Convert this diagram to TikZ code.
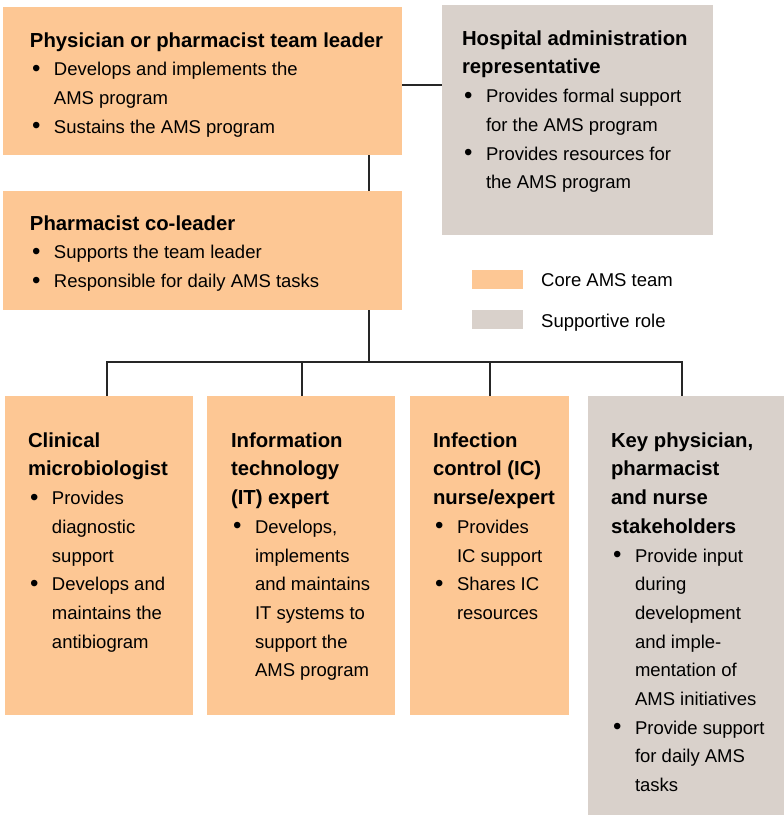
\documentclass[tikz,border=0pt]{standalone}
\usepackage{fontspec}
\setmainfont{Liberation Sans}
\definecolor{core}{HTML}{FDC794}
\definecolor{supp}{HTML}{D9D1CB}
\definecolor{lin}{HTML}{262626}
\newcommand{\ttl}[1]{{\fontsize{20.3}{28.7}\selectfont\bfseries #1}}
\newcommand{\bl}[1]{\makebox[24pt][l]{\hspace*{2pt}\raisebox{-0.5pt}{\fontsize{24}{28.7}\selectfont\textbullet}}#1}
\newcommand{\cn}[1]{\hspace*{24pt}#1}
\tikzset{
  box/.style={draw=none, anchor=north west, inner sep=0pt, outer sep=0pt},
  corebox/.style={box, fill=core},
  suppbox/.style={box, fill=supp},
  txt/.style={anchor=north west, inner sep=0pt, outer sep=0pt, align=left,
    font=\fontsize{18.5}{28.7}\selectfont},
  conn/.style={draw=lin, line width=1.2pt},
}
\begin{document}
\begin{tikzpicture}[x=1pt,y=-1pt]
\useasboundingbox (0,0) rectangle (784,815);
% boxes
\node[corebox, minimum width=399pt, minimum height=148pt] (b1) at (3,7) {};
\node[suppbox, minimum width=271pt, minimum height=230pt] (hosp) at (442,5) {};
\node[corebox, minimum width=399pt, minimum height=119pt] (co) at (3,191) {};
\node[corebox, minimum width=188pt, minimum height=319pt] (c1) at (5,396) {};
\node[corebox, minimum width=188pt, minimum height=319pt] (c2) at (207,396) {};
\node[corebox, minimum width=159pt, minimum height=319pt] (c3) at (410,396) {};
\node[suppbox, minimum width=196pt, minimum height=419pt] (c4) at (588,396) {};
% texts
\node[txt] (t1) at (30,32.5) {\ttl{Physician or pharmacist team leader}\\
  \bl{Develops and implements the}\\ \cn{AMS program}\\ \bl{Sustains the AMS program}};
\node[txt] (th) at (462,30.5) {\ttl{Hospital administration}\\ \ttl{representative}\\
  \bl{Provides formal support}\\ \cn{for the AMS program}\\
  \bl{Provides resources for}\\ \cn{the AMS program}};
\node[txt] (tco) at (30,215.5) {\ttl{Pharmacist co-leader}\\
  \bl{Supports the team leader}\\ \bl{Responsible for daily AMS tasks}};
\node[txt] (tc1) at (28,432.5) {\ttl{Clinical}\\ \ttl{microbiologist}\\
  \bl{Provides}\\ \cn{diagnostic}\\ \cn{support}\\
  \bl{Develops and}\\ \cn{maintains the}\\ \cn{antibiogram}};
\node[txt] (tc2) at (231,432.5) {\ttl{Information}\\ \ttl{technology}\\ \ttl{(IT) expert}\\
  \bl{Develops,}\\ \cn{implements}\\ \cn{and maintains}\\ \cn{IT systems to}\\
  \cn{support the}\\ \cn{AMS program}};
\node[txt] (tc3) at (433,432.5) {\ttl{Infection}\\ \ttl{control (IC)}\\ \ttl{nurse/expert}\\
  \bl{Provides}\\ \cn{IC support}\\ \bl{Shares IC}\\ \cn{resources}};
\node[txt] (tc4) at (611,432.5) {\ttl{Key physician,}\\ \ttl{pharmacist}\\ \ttl{and nurse}\\
  \ttl{stakeholders}\\
  \bl{Provide input}\\ \cn{during}\\ \cn{development}\\ \cn{and imple-}\\
  \cn{mentation of}\\ \cn{AMS initiatives}\\
  \bl{Provide support}\\ \cn{for daily AMS}\\ \cn{tasks}};
% legend
\node[corebox, minimum width=51pt, minimum height=19pt] (lg1) at (472,270) {};
\node[suppbox, minimum width=51pt, minimum height=19pt] (lg2) at (472,310) {};
\node[anchor=base west, inner sep=0pt, font=\fontsize{18.5}{22}\selectfont] (lt1) at (541,286) {Core AMS team};
\node[anchor=base west, inner sep=0pt, font=\fontsize{18.5}{22}\selectfont] (lt2) at (541,327) {Supportive role};
% connectors
\coordinate (j1) at (402,85);
\draw[conn] (j1) -- (j1 -| hosp.west);
\coordinate (tx) at (369,0);
\draw[conn] (b1.south -| tx) -- (co.north -| tx);
\coordinate (bus) at (369,362);
\draw[conn] (co.south -| tx) -- (bus);
\coordinate (d1) at (107,362);
\coordinate (d2) at (302,362);
\coordinate (d3) at (490,362);
\coordinate (d4) at (682,362);
\draw[conn] (d1 |- c1.north) -- (d1) -- (d4) -- (d4 |- c4.north);
\draw[conn] (d2) -- (d2 |- c2.north);
\draw[conn] (d3) -- (d3 |- c3.north);
\end{tikzpicture}
\end{document}
